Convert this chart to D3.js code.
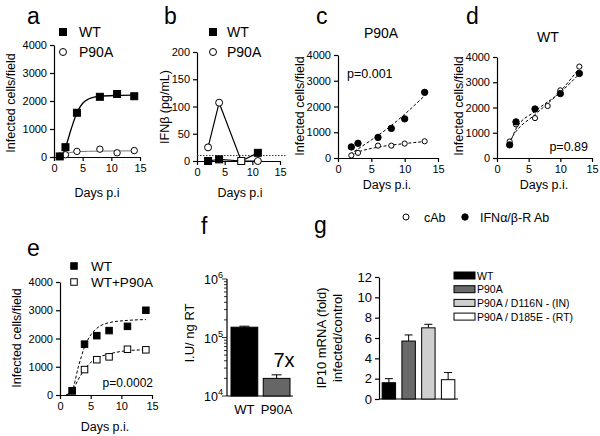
<!DOCTYPE html>
<html><head><meta charset="utf-8">
<script src="https://cdn.jsdelivr.net/npm/d3@7/dist/d3.min.js"></script>
<style>
body{margin:0;background:#fff;}
svg{font-family:"Liberation Sans",Arial,sans-serif;}
</style></head>
<body><svg id="c" width="600" height="436"></svg>
<script>
// ---------- DATA ----------
// panel a
const aDays = [1, 2, 4, 8, 11, 14];
const aWT = [20, 350, 1580, 2150, 2250, 2170];
const aP90A = [30, 80, 200, 280, 150, 230];
const aWTFit = [[1.5,40],[2,330],[3,1000],[4,1580],[5,1920],[6,2070],[7,2140],[8,2170],[11,2200],[14,2210]];
const aP90AFit = [[1,30],[2,110],[4,190],[8,210],[11,215],[14,220]];
// panel b
const bDays = [2, 4, 8, 11];
const bWT = [0, 3, 0, 15];
const bP90A = [25, 107, 0, 0];
const bDetection = 10;
// panel c (P90A)
const cDaysFilled = [2, 3, 6, 8, 10, 13];
const cFilled = [430, 570, 800, 1150, 1520, 2550];
const cDaysOpen = [2, 3, 6, 8, 10, 13];
const cOpen = [100, 200, 480, 480, 560, 650];
const cFilledFit = [[1.8,150],[5,700],[8,1260],[10,1700],[13,2420]];
const cOpenFit = [[1.8,90],[3,230],[6,420],[8,500],[10,560],[13,640]];
// panel d (WT)
const dDaysFilled = [2, 3, 6, 10, 13];
const dFilled = [520, 1430, 1940, 2550, 3350];
const dDaysOpen = [2, 3, 6, 8, 10, 13];
const dOpen = [650, 1330, 1580, 2060, 2680, 3620];
const dFilledFit = [[2,560],[3,1150],[6,1850],[10,2600],[13,3330]];
const dOpenFit = [[2,680],[3,1050],[6,1720],[10,2640],[13,3560]];
// panel e
const eDays = [2, 4, 6, 8, 11, 14];
const eWT = [150, 1800, 2100, 2280, 2430, 3000];
const eMix = [150, 900, 1250, 1350, 1620, 1600];
const eWTFit = [[1,0],[2,180],[3,1000],[4,1700],[5,2120],[6,2360],[8,2560],[11,2640],[14,2670]];
const eMixFit = [[1,0],[2,140],[3,560],[4,900],[5,1150],[6,1300],[8,1450],[11,1570],[14,1600]];
// panel f
const fCats = ["WT", "P90A"];
const fVals = [150000, 20000];
const fErr = [156000, 23000];
// panel g
const gCats = ["WT", "P90A", "P90A / D116N - (IN)", "P90A / D185E - (RT)"];
const gVals = [1.6, 5.7, 7.0, 1.9];
const gErr = [2.0, 6.3, 7.35, 2.6];
const gColors = ["#000", "#6a6a6a", "#cfcfcf", "#fff"];

const daysTicks = [0, 5, 10, 15];
const cellTicks = [0, 1000, 2000, 3000, 4000];
const ifnTicks = [0, 50, 100, 150, 200];
const gTicks = [0, 2, 4, 6, 8, 10, 12];

// ---------- DRAW ----------
const svg = d3.select("#c");
const FS = 11;   // tick labels
const LS = 12.5; // axis labels

function axes(g, x, y, xt, yt) {
  const ax = g.append("g").attr("transform", `translate(0,${y.range()[0]})`)
    .call(d3.axisBottom(x).tickValues(xt).tickSize(4).tickSizeOuter(0));
  const ay = g.append("g").attr("transform", `translate(${x.range()[0]},0)`)
    .call(d3.axisLeft(y).tickValues(yt).tickSize(4).tickSizeOuter(0).tickFormat(d3.format("d")));
  [ax, ay].forEach(a => {
    a.selectAll("text").attr("font-size", FS).attr("fill", "#000");
    a.selectAll("line,path").attr("stroke", "#000").attr("stroke-width", 1.2);
    a.attr("font-family", null);
  });
}
function ylabel(x, y, t, fs = LS) {
  svg.append("text").attr("transform", `translate(${x},${y}) rotate(-90)`)
    .attr("text-anchor", "middle").attr("font-size", fs).text(t);
}
function txt(x, y, t, fs = LS, anchor = "start") {
  return svg.append("text").attr("x", x).attr("y", y).attr("font-size", fs)
    .attr("text-anchor", anchor).text(t);
}
function letter(x, y, t) { txt(x, y, t, 23); }
function square(g, cx, cy, s, fill) {
  g.append("rect").attr("x", cx - s / 2).attr("y", cy - s / 2).attr("width", s).attr("height", s)
    .attr("fill", fill).attr("stroke", "#000").attr("stroke-width", 1);
}
function circle(g, cx, cy, r, fill) {
  g.append("circle").attr("cx", cx).attr("cy", cy).attr("r", r)
    .attr("fill", fill).attr("stroke", "#000").attr("stroke-width", 1);
}

// ---- panel a ----
{
  const g = svg.append("g");
  const x = d3.scaleLinear().domain([0, 15]).range([54, 140]);
  const y = d3.scaleLinear().domain([0, 4000]).range([157, 45]);
  axes(g, x, y, daysTicks, cellTicks);
  const line = d3.line().x(d => x(d[0])).y(d => y(d[1])).curve(d3.curveMonotoneX);
  g.append("path").attr("d", line(aP90AFit)).attr("fill", "none").attr("stroke", "#777").attr("stroke-width", 1);
  g.append("path").attr("d", line(aWTFit)).attr("fill", "none").attr("stroke", "#000").attr("stroke-width", 1.3);
  aDays.forEach((d, i) => circle(g, x(d), y(aP90A[i]), 3.2, "#fff"));
  aDays.forEach((d, i) => square(g, x(d), y(aWT[i]), 7, "#000"));
  square(g, 63, 32, 7, "#000"); txt(79, 37, "WT", 14);
  circle(g, 63, 52, 3.5, "#fff"); txt(79, 57, "P90A", 14);
  ylabel(15, 103, "Infected cells/field");
  txt(97, 197, "Days p.i", LS, "middle");
  letter(27, 24, "a");
}
// ---- panel b ----
{
  const g = svg.append("g");
  const x = d3.scaleLinear().domain([0, 15]).range([197, 280]);
  const y = d3.scaleLinear().domain([0, 200]).range([161, 52]);
  axes(g, x, y, daysTicks, ifnTicks);
  g.append("line").attr("x1", x(0)).attr("x2", x(16.2)).attr("y1", y(bDetection)).attr("y2", y(bDetection))
    .attr("stroke", "#333").attr("stroke-dasharray", "1.5,1.5").attr("stroke-width", 1);
  const line = d3.line().x((d, i) => x(bDays[i])).y(d => y(d));
  g.append("path").attr("d", line(bP90A)).attr("fill", "none").attr("stroke", "#000").attr("stroke-width", 1.2);
  g.append("path").attr("d", line(bWT)).attr("fill", "none").attr("stroke", "#000").attr("stroke-width", 1.2);
  bDays.forEach((d, i) => circle(g, x(d), y(bP90A[i]), 3.5, "#fff"));
  bDays.forEach((d, i) => square(g, x(d), y(bWT[i]), 7, bWT[i] === 0 && bP90A[i] === 0 ? "#fff" : "#000"));
  square(g, 213, 32, 7, "#000"); txt(227, 37, "WT", 14);
  circle(g, 213, 52, 3.5, "#fff"); txt(227, 57, "P90A", 14);
  ylabel(169, 107, "IFNβ  (pg/mL)");
  txt(240, 197, "Days p.i", LS, "middle");
  letter(164, 24, "b");
}
// ---- panel c ----
{
  const g = svg.append("g");
  const x = d3.scaleLinear().domain([0, 15]).range([338, 438]);
  const y = d3.scaleLinear().domain([0, 4000]).range([158, 55]);
  axes(g, x, y, daysTicks, cellTicks);
  const line = d3.line().x(d => x(d[0])).y(d => y(d[1])).curve(d3.curveMonotoneX);
  [cFilledFit, cOpenFit].forEach(f => g.append("path").attr("d", line(f)).attr("fill", "none")
    .attr("stroke", "#000").attr("stroke-width", 1).attr("stroke-dasharray", "3,2"));
  cDaysOpen.forEach((d, i) => circle(g, x(d), y(cOpen[i]), 2.6, "#fff"));
  cDaysFilled.forEach((d, i) => circle(g, x(d), y(cFilled[i]), 3.2, "#000"));
  txt(347, 78, "p=0.001", LS);
  txt(381, 38, "P90A", 14, "middle");
  ylabel(304, 106, "Infected cells/field");
  txt(387, 189, "Days p.i.", LS, "middle");
  letter(316, 24, "c");
}
// ---- panel d ----
{
  const g = svg.append("g");
  const x = d3.scaleLinear().domain([0, 15]).range([497, 592]);
  const y = d3.scaleLinear().domain([0, 4000]).range([158, 57]);
  axes(g, x, y, daysTicks, cellTicks);
  const line = d3.line().x(d => x(d[0])).y(d => y(d[1])).curve(d3.curveMonotoneX);
  [dFilledFit, dOpenFit].forEach(f => g.append("path").attr("d", line(f)).attr("fill", "none")
    .attr("stroke", "#000").attr("stroke-width", 1).attr("stroke-dasharray", "3,2"));
  dDaysOpen.forEach((d, i) => circle(g, x(d), y(dOpen[i]), 2.6, "#fff"));
  dDaysFilled.forEach((d, i) => circle(g, x(d), y(dFilled[i]), 3.2, "#000"));
  txt(588, 151, "p=0.89", LS, "end");
  txt(548, 42, "WT", 14, "middle");
  ylabel(463, 106, "Infected cells/field");
  txt(544, 189, "Days p.i.", LS, "middle");
  letter(466, 24, "d");
}
// legend c/d
circle(svg, 406, 217, 3, "#fff"); txt(424, 222, "cAb", 12.5);
circle(svg, 465, 217, 3.2, "#000"); txt(480, 222, "IFNα/β-R Ab", 12.5);
// ---- panel e ----
{
  const g = svg.append("g");
  const x = d3.scaleLinear().domain([0, 15]).range([60, 152]);
  const y = d3.scaleLinear().domain([0, 4000]).range([395, 282]);
  axes(g, x, y, daysTicks, cellTicks);
  const line = d3.line().x(d => x(d[0])).y(d => y(d[1])).curve(d3.curveMonotoneX);
  [eWTFit, eMixFit].forEach(f => g.append("path").attr("d", line(f)).attr("fill", "none")
    .attr("stroke", "#000").attr("stroke-width", 1).attr("stroke-dasharray", "3,2"));
  eDays.forEach((d, i) => square(g, x(d), y(eMix[i]), 6.5, "#fff"));
  eDays.forEach((d, i) => square(g, x(d), y(eWT[i]), 6.5, "#000"));
  square(g, 74, 266, 6.5, "#000"); txt(91, 270.5, "WT", 13.5);
  square(g, 74, 282, 6.5, "#fff"); txt(91, 287, "WT+P90A", 13.5);
  txt(153, 387, "p=0.0002", 12, "end");
  ylabel(21, 338, "Infected cells/field");
  txt(105, 431, "Days p.i.", LS, "middle");
  letter(27, 256, "e");
}
// ---- panel f ----
{
  const g = svg.append("g");
  const X0 = 227, BASE = 396;
  const x = d3.scaleBand().domain(fCats).range([231, 290]).paddingInner(0.17);
  const y = d3.scaleLog().domain([1e4, 1e6]).range([BASE, 279]);
  const minor = [];
  for (let e = 4; e < 6; e++) for (let k = 1; k < 10; k++) minor.push(k * Math.pow(10, e));
  minor.push(1e6);
  g.selectAll(".mt").data(minor).join("line").attr("x1", X0).attr("x2", d => [1e4, 1e5, 1e6].includes(d) ? X0 - 5 : X0 - 3)
    .attr("y1", d => y(d)).attr("y2", d => y(d)).attr("stroke", "#000").attr("stroke-width", 0.8);
  g.append("line").attr("x1", X0).attr("x2", X0).attr("y1", 279).attr("y2", BASE).attr("stroke", "#000").attr("stroke-width", 1.2);
  g.append("line").attr("x1", X0).attr("x2", 293).attr("y1", BASE).attr("y2", BASE).attr("stroke", "#000").attr("stroke-width", 1.2);
  [[1e6, "6"], [1e5, "5"], [1e4, "4"]].forEach(([v, e]) => {
    const t = g.append("text").attr("x", 223).attr("y", y(v) + 5).attr("text-anchor", "end").attr("font-size", 12.5);
    t.append("tspan").text("10");
    t.append("tspan").attr("dy", -6).attr("font-size", 9).text(e);
  });
  const cols = ["#000", "#666"];
  fCats.forEach((c, i) => {
    const cx = x(c) + x.bandwidth() / 2;
    g.append("line").attr("x1", cx).attr("x2", cx).attr("y1", y(fVals[i])).attr("y2", y(fErr[i])).attr("stroke", "#000");
    g.append("line").attr("x1", cx - 5).attr("x2", cx + 5).attr("y1", y(fErr[i])).attr("y2", y(fErr[i])).attr("stroke", "#000");
    g.append("rect").attr("x", x(c)).attr("width", x.bandwidth()).attr("y", y(fVals[i]))
      .attr("height", BASE - y(fVals[i])).attr("fill", cols[i]).attr("stroke", "#000").attr("stroke-width", 1);
    txt(cx, 414, c, 13, "middle");
  });
  txt(284, 367, "7x", 20, "middle");
  ylabel(194, 333, "I.U/ ng RT", 13);
  letter(201, 234, "f");
}
// ---- panel g ----
{
  const g = svg.append("g");
  const x = d3.scaleBand().domain(gCats).range([379, 458]).paddingInner(0.32).paddingOuter(0.16);
  const y = d3.scaleLinear().domain([0, 12]).range([399, 277]);
  g.append("g").attr("transform", "translate(379,0)")
    .call(d3.axisLeft(y).tickValues(gTicks).tickSize(4).tickSizeOuter(0))
    .call(a => { a.selectAll("text").attr("font-size", 13).attr("fill", "#000"); a.selectAll("line,path").attr("stroke", "#000").attr("stroke-width", 1.2); a.attr("font-family", null); });
  g.append("line").attr("x1", 379).attr("x2", 458).attr("y1", 399).attr("y2", 399).attr("stroke", "#000").attr("stroke-width", 1.2);
  gCats.forEach((c, i) => {
    const cx = x(c) + x.bandwidth() / 2;
    g.append("line").attr("x1", cx).attr("x2", cx).attr("y1", y(gVals[i])).attr("y2", y(gErr[i])).attr("stroke", "#000");
    g.append("line").attr("x1", cx - 4).attr("x2", cx + 4).attr("y1", y(gErr[i])).attr("y2", y(gErr[i])).attr("stroke", "#000");
    g.append("rect").attr("x", x(c)).attr("width", x.bandwidth()).attr("y", y(gVals[i]))
      .attr("height", 399 - y(gVals[i])).attr("fill", gColors[i]).attr("stroke", "#000").attr("stroke-width", 1);
    g.append("rect").attr("x", 454).attr("y", 272 + i * 13.7).attr("width", 21).attr("height", 7)
      .attr("fill", gColors[i]).attr("stroke", "#000").attr("stroke-width", 1);
    txt(477, 279.5 + i * 13.7, c, 10.5);
  });
  ylabel(326, 338, "IP10 mRNA (fold)", 13);
  ylabel(342, 338, "infected/control", 13);
  letter(314, 233, "g");
}
</script></body></html>
